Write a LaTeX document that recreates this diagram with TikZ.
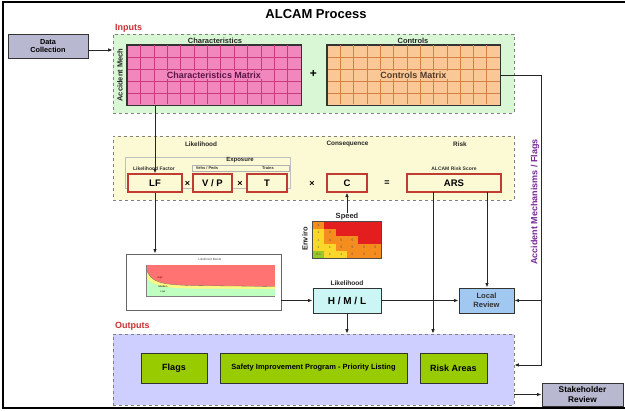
\documentclass[tikz,border=0pt]{standalone}
\usepackage{fontspec}
\setmainfont{Liberation Sans}
\usetikzlibrary{arrows.meta,calc}
\definecolor{ingreen}{RGB}{217,247,212}
\definecolor{pinkm}{RGB}{242,135,190}
\definecolor{pinkg}{RGB}{200,60,125}
\definecolor{peachm}{RGB}{250,200,150}
\definecolor{peachg}{RGB}{210,130,70}
\definecolor{yelf}{RGB}{252,250,212}
\definecolor{redb}{RGB}{190,60,50}
\definecolor{lavout}{RGB}{206,206,255}
\definecolor{greenb}{RGB}{153,204,0}
\definecolor{grayb}{RGB}{184,184,208}
\definecolor{bluelr}{RGB}{160,200,240}
\definecolor{cyanh}{RGB}{204,245,245}
\definecolor{purpl}{RGB}{120,40,150}
\definecolor{redl}{RGB}{200,50,50}
\definecolor{cR}{RGB}{228,30,30}
\definecolor{cO}{RGB}{245,140,30}
\definecolor{cY}{RGB}{250,215,40}
\definecolor{cG}{RGB}{150,200,40}
\newcommand\myfs[1]{\fontsize{#1}{#1}\selectfont\bfseries}
\begin{document}
\begin{tikzpicture}[x=1pt,y=-1pt,
  >={Latex[length=4.5pt,width=3.5pt]},
  conn/.style={draw=black!85, line width=0.9pt},
  sbox/.style={draw=black!80, line width=0.9pt, inner sep=0pt, align=center},
  rbox/.style={draw=redb, line width=1.1pt, fill=yelf, inner sep=0pt, minimum height=18pt, font=\myfs{9.5}},
  dbox/.style={draw=gray, dashed, line width=0.6pt, inner sep=0pt},
  lbl/.style={inner sep=0pt, font=\myfs{6.4}, text=black!85},
  tiny/.style={inner sep=0pt, font=\myfs{4}, text=black!80},
  gbox/.style={sbox, fill=greenb, minimum height=30pt}]
\useasboundingbox (0,0) rectangle (625,411);
\fill[white] (0,0) rectangle (625,411);
% outer frame
\draw[line width=1.6pt] (625,2) -- (3,2) -- (3,408) -- (625,408);
% title
\node[inner sep=0pt, font=\myfs{13}] (title) at (316,14) {ALCAM Process};
% data collection
\node[sbox, fill=grayb, minimum width=80pt, minimum height=24pt, font=\fontsize{7.3}{8.5}\selectfont\bfseries] (dc) at (48,46) {Data\\Collection};
% inputs
\node[dbox, fill=ingreen, minimum width=401pt, minimum height=79pt] (inputs) at (313.5,73.5) {};
\node[inner sep=0pt, anchor=west, font=\myfs{9}, text=redl] (inl) at (115,28) {Inputs};
\node[lbl, rotate=90, font=\myfs{7.5}] (am) at (120,75) {Accident Mech};
\node[lbl, font=\myfs{7.5}] (chl) at (215,41) {Characteristics};
\node[lbl, font=\myfs{7.5}] (col) at (413,41) {Controls};
% characteristics matrix
\node[sbox, fill=pinkm, minimum width=174pt, minimum height=60pt] (charm) at (214,75) {};
\foreach \i in {1,...,12} \draw[pinkg, line width=0.5pt] (127+\i*174/13,45.5) -- (127+\i*174/13,104.5);
\foreach \j in {1,...,4} \draw[pinkg, line width=0.5pt] (127.5,45+\j*12) -- (300.5,45+\j*12);
\draw[black!80, line width=1pt] (charm.north west) rectangle (charm.south east);
\node[inner sep=1pt, fill=pinkm, font=\myfs{9}, text={rgb,255:red,90;green,20;blue,70}] (chmt) at (214,75) {Characteristics Matrix};
\node[inner sep=0pt, font=\myfs{12}] (plus) at (313.5,74) {+};
% controls matrix
\node[sbox, fill=peachm, minimum width=173pt, minimum height=60pt] (ctrlm) at (413.5,75) {};
\foreach \i in {1,...,12} \draw[peachg, line width=0.5pt] (327+\i*173/13,45.5) -- (327+\i*173/13,104.5);
\foreach \j in {1,...,4} \draw[peachg, line width=0.5pt] (327.5,45+\j*12) -- (499.5,45+\j*12);
\draw[black!80, line width=1pt] (ctrlm.north west) rectangle (ctrlm.south east);
\node[inner sep=1pt, fill=peachm, font=\myfs{9}, text={rgb,255:red,80;green,60;blue,40}] (ctmt) at (413.5,75) {Controls Matrix};
% likelihood / consequence / risk
\node[dbox, fill=yelf, minimum width=401pt, minimum height=64pt] (lik) at (313.5,168) {};
\node[lbl] (likl) at (201,144) {Likelihood};
\node[lbl] (conl) at (347.5,144) {Consequence};
\node[lbl] (riskl) at (460,144) {Risk};
\node[draw=black!25, line width=0.5pt, minimum width=165pt, minimum height=31pt, inner sep=0pt] (expg) at (207.5,172.5) {};
\node[lbl, font=\myfs{6}] (expl) at (240,160) {Exposure};
\node[draw=black!30, line width=0.5pt, minimum width=97pt, minimum height=6.5pt, inner sep=0pt] (expsub) at (240.5,168.5) {};
\node[tiny, font=\myfs{5}] (lfl) at (154,168.5) {Likelihood Factor};
\node[tiny] (vpl) at (207,168.5) {Vehs / Peds};
\node[tiny] (trl) at (268,168.5) {Trains};
\node[rbox, minimum width=54pt] (lf) at (155,183) {LF};
\node[inner sep=0pt, font=\myfs{9}] (x1) at (187.5,183.5) {×};
\node[rbox, minimum width=39pt] (vp) at (212.5,183) {V / P};
\node[inner sep=0pt, font=\myfs{9}] (x2) at (240,183.5) {×};
\node[rbox, minimum width=40pt] (t) at (267,183) {T};
\node[inner sep=0pt, font=\myfs{9}] (x3) at (312,183.5) {×};
\node[rbox, minimum width=40pt] (c) at (347,183) {C};
\node[inner sep=0pt, font=\myfs{9}] (eq) at (387,183) {=};
\node[tiny, font=\myfs{5}] (arsl) at (454,168.5) {ALCAM Risk Score};
\node[rbox, minimum width=94pt] (ars) at (454,183) {ARS};
% speed / enviro matrix
\node[lbl, font=\myfs{7.5}] (spd) at (347,217) {Speed};
\node[lbl, font=\myfs{7.5}, rotate=90] (env) at (305,239) {Enviro};
\node[draw=black!70, line width=0.8pt, minimum width=68pt, minimum height=36pt, inner sep=0pt] (smat) at (347,240) {};
\foreach \r/\row in {0/{cO/4,cR/,cR/,cR/,cR/,cR/},
                    1/{cY/1,cO/4,cR/,cR/,cR/,cR/},
                    2/{cY/1,cO/4,cO/5,cO/5,cR/,cR/},
                    3/{cY/1,cY/1,cO/5,cO/5,cO/5,cO/5},
                    4/{cG/0.1,cY/1,cY/1,cO/5,cO/5,cO/5}} {
  \foreach \col/\v [count=\k from 0] in \row {
    \fill[\col] (313+\k*68/6,222+\r*7.2) rectangle (313+\k*68/6+68/6,222+\r*7.2+7.2);
    \node[inner sep=0pt, font=\fontsize{3.2}{3.2}\selectfont, text=black!70] at (313+\k*68/6+5.6,222+\r*7.2+3.6) {\v};
  }
}
\draw[black!70, line width=0.8pt] (smat.north west) rectangle (smat.south east);
% likelihood chart
\node[draw=black!60, line width=0.8pt, fill=white, minimum width=155pt, minimum height=56pt, inner sep=0pt] (graph) at (203.5,282) {};
\node[inner sep=0pt, font=\fontsize{3}{3}\selectfont, text=black!70] (gt) at (210,259) {Likelihood Bands};
\fill[red!55] (146,265) rectangle (275,296);
\fill[yellow!50] (146,268) .. controls (150,283) and (162,284.5) .. (190,285.5) -- (275,286.5) -- (275,296) -- (146,296) -- cycle;
\draw[black!60, line width=0.3pt] (146,268) .. controls (150,283) and (162,284.5) .. (190,285.5) -- (275,286.5);
\fill[green!25] (146,277) .. controls (152,286) and (165,288) .. (190,288.5) -- (275,289) -- (275,296) -- (146,296) -- cycle;
\draw[black!50, line width=0.3pt] (146,265) -- (146,296) -- (275,296);
\foreach \k in {0,...,8} \draw[black!50, line width=0.2pt] (146+\k*16,296) -- (146+\k*16,297.5);
\node[inner sep=0pt, font=\fontsize{2.5}{2.5}\selectfont, text=red!50!black] (gh) at (160,278) {High};
\node[inner sep=0pt, font=\fontsize{2.5}{2.5}\selectfont] (gm) at (163,286.5) {Medium};
\node[inner sep=0pt, font=\fontsize{2.5}{2.5}\selectfont] (gl) at (163,292) {Low};
% H/M/L and local review
\node[lbl, font=\myfs{6.6}] (hmll) at (347,283) {Likelihood};
\node[sbox, fill=cyanh, minimum width=68pt, minimum height=25pt, font=\myfs{10}] (hml) at (347,300.5) {H / M / L};
\node[sbox, fill=bluelr, minimum width=55pt, minimum height=25pt, font=\fontsize{7.6}{9}\selectfont\bfseries, text=black!80] (lr) at (486.5,300.5) {Local\\Review};
% outputs
\node[dbox, fill=lavout, minimum width=401pt, minimum height=71pt] (outputs) at (313.5,369.5) {};
\node[inner sep=0pt, anchor=west, font=\myfs{9}, text=redl] (outl) at (115,326) {Outputs};
\node[gbox, minimum width=66pt, font=\myfs{9}] (flags) at (174,368) {Flags};
\node[gbox, minimum width=187pt, font=\myfs{7.5}] (sip) at (313.5,368) {Safety Improvement Program - Priority Listing};
\node[gbox, minimum width=67pt, font=\myfs{9}] (ra) at (453.5,368) {Risk Areas};
\node[sbox, fill=grayb, minimum width=81pt, minimum height=23pt, font=\fontsize{8.3}{9.3}\selectfont\bfseries] (sr) at (582.5,394.5) {Stakeholder\\Review};
% side label
\node[lbl, rotate=90, font=\myfs{9}, text=purpl] (amf) at (535,202) {Accident Mechanisms / Flags};
% connectors
\draw[conn,->] ($(dc.east)+(0,4)$) -- ($(dc.east -| inputs.west)+(0,4)$);
\draw[conn,->] (charm.south -| lf.north) -- (lf.north);
\draw[conn,->] (lf.south) -- (lf.south |- graph.north);
\draw[conn,->] (spd.north) -- (c.south);
\draw[conn,->] (graph.east |- hml.west) -- (hml.west);
\draw[conn,->] (hml.east) -- (lr.west);
\draw[conn,->] (hml.south) -- (hml.south |- outputs.north);
\coordinate (a1) at (433,192);
\coordinate (a2) at (487,192);
\draw[conn,->] (a1) -- (a1 |- outputs.north);
\draw[conn,->] (a2) -- (a2 |- lr.north);
\coordinate (r1) at (541,75);
\coordinate (r2) at (541,365);
\draw[conn,->] (ctrlm.east) -- (r1) -- (r2) -- (r2 -| outputs.east);
\draw[conn,->] (r1 |- lr.east) -- (lr.east);
\draw[conn,->] (outputs.east |- sr.west) -- (sr.west);
\end{tikzpicture}
\end{document}
